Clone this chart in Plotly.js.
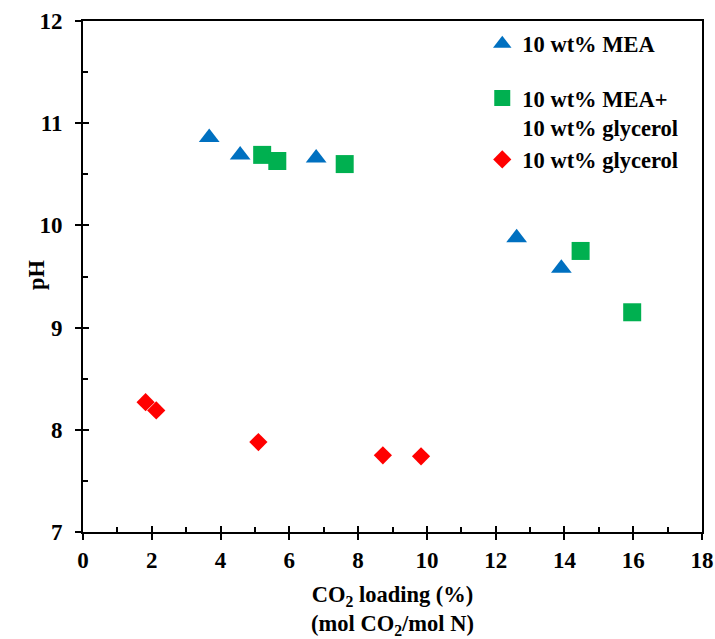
<!DOCTYPE html>
<html>
<head>
<meta charset="utf-8">
<script src="https://cdn.plot.ly/plotly-3.0.1.min.js"></script>
<style>html,body{margin:0;padding:0;background:#fff;}#chart{width:715px;height:639px;}</style>
</head>
<body>
<div id="chart"></div>
<script>
// Data
const meaX = [3.67, 4.57, 6.78, 12.61, 13.91];
const meaY = [10.86, 10.69, 10.66, 9.88, 9.58];
const mixX = [5.21, 5.65, 7.61, 14.47, 15.97];
const mixY = [10.69, 10.63, 10.60, 9.75, 9.15];
const glyX = [1.82, 2.13, 5.10, 8.72, 9.83];
const glyY = [8.27, 8.19, 7.88, 7.75, 7.74];
const seriesNames = ["10 wt% MEA", "10 wt% MEA+<br>10 wt% glycerol", "10 wt% glycerol"];
const xTickVals = [0, 2, 4, 6, 8, 10, 12, 14, 16, 18];
const yTickVals = [7, 8, 9, 10, 11, 12];
const yTitle = "pH";

const FONT = "Liberation Serif, Times New Roman, serif";
const bold = s => '<b>' + s + '</b>';

const traces = [
  {x: meaX, y: meaY, name: bold(seriesNames[0]), type: 'scatter', mode: 'markers', legendgroup: 'a',
   marker: {symbol: 'triangle-up', size: 18, color: '#0070C0'}},
  {x: mixX, y: mixY, name: bold(seriesNames[1]).replace('<br>', '</b><br><b>'), type: 'scatter', mode: 'markers', legendgroup: 'b',
   marker: {symbol: 'square', size: 18, color: '#00B050'}},
  {x: glyX, y: glyY, name: bold(seriesNames[2]), type: 'scatter', mode: 'markers', legendgroup: 'b',
   marker: {symbol: 'diamond', size: 14, color: '#FF0000'}},
  {x: [0], y: [7], xaxis: 'x2', yaxis: 'y2', type: 'scatter', mode: 'markers',
   marker: {opacity: 0}, showlegend: false, hoverinfo: 'skip'}
];

const layout = {
  width: 715, height: 639,
  margin: {l: 83, r: 13, t: 21, b: 107},
  paper_bgcolor: '#fff', plot_bgcolor: '#fff',
  font: {family: FONT, color: '#000', size: 22, weight: 'bold'},
  showlegend: true,
  legend: {x: 0.645, xanchor: 'left', y: 0.997, yanchor: 'top',
           font: {family: FONT, size: 22.5, color: '#000', weight: 'bold'},
           traceorder: 'grouped', tracegroupgap: 22, valign: 'top',
           bgcolor: 'rgba(0,0,0,0)', itemwidth: 30},
  xaxis: {range: [0, 18], tickmode: 'array', tickvals: xTickVals, ticktext: xTickVals.map(v => bold(v)),
          showgrid: false, zeroline: false,
          showline: true, linecolor: '#000', linewidth: 2, mirror: true,
          ticks: 'outside', ticklen: 6, tickwidth: 2, tickcolor: '#000',
          tickfont: {family: FONT, size: 23, weight: 'bold', color: '#000'},
          title: {text: bold('CO<sub>2</sub> loading (%)') + '<br>' + bold('(mol CO<sub>2</sub>/mol N)'),
                  font: {family: FONT, size: 22.5, weight: 'bold'}, standoff: 22}},
  yaxis: {range: [7, 12], tickmode: 'array', tickvals: yTickVals, ticktext: yTickVals.map(v => bold(v)),
          showgrid: false, zeroline: false,
          showline: true, linecolor: '#000', linewidth: 2, mirror: true,
          ticks: 'outside', ticklen: 6, tickwidth: 2, tickcolor: '#000', ticklabelstandoff: 8,
          tickfont: {family: FONT, size: 23, weight: 'bold', color: '#000'}},
  annotations: [{text: bold(yTitle), textangle: -90, xref: 'paper', yref: 'paper',
                 x: -0.0743, y: 0.503, xanchor: 'center', yanchor: 'middle', showarrow: false,
                 font: {family: FONT, size: 22.5, color: '#000', weight: 'bold'}}],
  xaxis2: {overlaying: 'x', matches: 'x', range: [0, 18], showticklabels: false, showgrid: false,
           zeroline: false, showline: false, ticks: 'inside', dtick: 2, tick0: 0, ticklen: 6,
           tickwidth: 2, tickcolor: '#000', side: 'bottom', anchor: 'y2',
           minor: {ticks: 'inside', dtick: 1, tick0: 0, ticklen: 5, tickwidth: 2, tickcolor: '#000'}},
  yaxis2: {overlaying: 'y', matches: 'y', range: [7, 12], showticklabels: false, showgrid: false,
           zeroline: false, showline: false, ticks: 'inside', dtick: 1, tick0: 7, ticklen: 6,
           tickwidth: 2, tickcolor: '#000', side: 'left', anchor: 'x2',
           minor: {ticks: 'inside', dtick: 0.5, tick0: 7, ticklen: 5, tickwidth: 2, tickcolor: '#000'}}
};

Plotly.newPlot('chart', traces, layout, {displayModeBar: false, staticPlot: true});
</script>
</body>
</html>
